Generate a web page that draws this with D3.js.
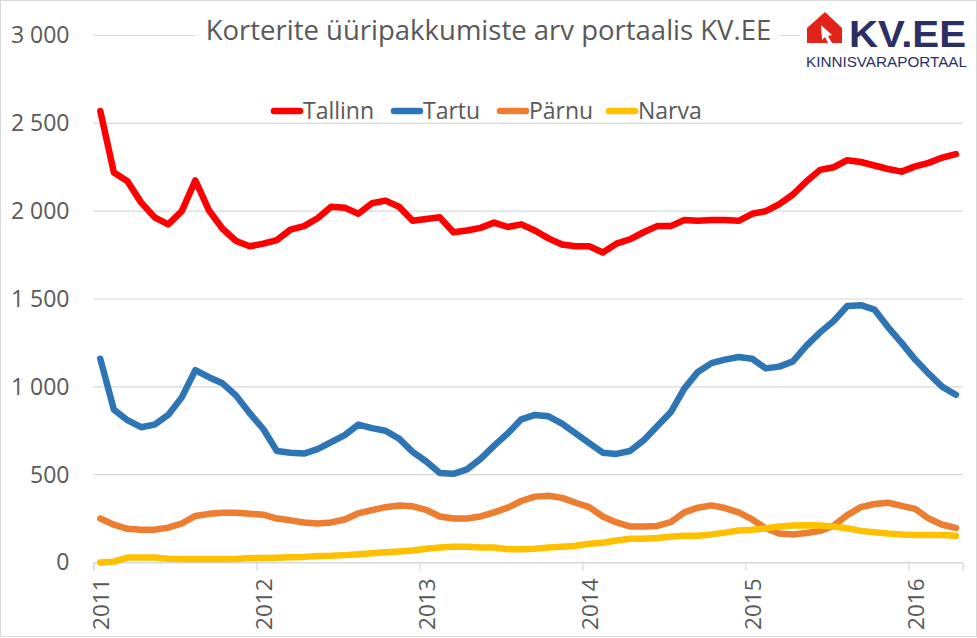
<!DOCTYPE html>
<html>
<head>
<meta charset="utf-8">
<script src="https://cdn.jsdelivr.net/npm/d3@7"></script>
<style>
  html, body { margin: 0; padding: 0; background: #fff; }
  text { font-family: "Open Sans", sans-serif; fill: #595959; }
</style>
</head>
<body>
<div id="chart"></div>
<script>
const years = ["2011", "2012", "2013", "2014", "2015", "2016"];
const yTicks = [0, 500, 1000, 1500, 2000, 2500, 3000];

const tallinn = [2570, 2220, 2170, 2050, 1965, 1925, 2000, 2175, 2005, 1900, 1830, 1800,
  1815, 1835, 1895, 1915, 1960, 2025, 2020, 1985, 2045, 2060, 2025, 1945,
  1955, 1965, 1880, 1890, 1905, 1935, 1910, 1925, 1890, 1845, 1810, 1800,
  1800, 1765, 1815, 1840, 1880, 1915, 1915, 1950, 1945, 1950, 1950, 1945,
  1985, 2000, 2040, 2095, 2170, 2235, 2250, 2290, 2280, 2260, 2240, 2225,
  2255, 2275, 2305, 2325];
const tartu = [1160, 870, 810, 770, 785, 840, 940, 1095, 1055, 1020, 950, 850,
  760, 635, 625, 620, 645, 685, 725, 785, 765, 750, 705, 630,
  575, 510, 505, 530, 590, 665, 735, 815, 840, 832, 790, 735,
  680, 625, 618, 635, 695, 775, 855, 990, 1085, 1135, 1155, 1170,
  1160, 1105, 1115, 1145, 1235, 1310, 1375, 1460, 1465, 1440, 1340, 1250,
  1155, 1075, 1000, 955];
const parnu = [250, 215, 192, 187, 187, 198, 222, 265, 277, 283, 283, 278,
  272, 250, 240, 228, 222, 228, 245, 280, 298, 315, 325, 320,
  300, 262, 250, 250, 262, 285, 312, 350, 375, 380, 368, 340,
  315, 262, 228, 205, 205, 208, 230, 285, 312, 325, 310, 285,
  245, 195, 165, 160, 168, 180, 210, 270, 315, 333, 340, 322,
  305, 250, 215, 197];
const narva = [0, 5, 28, 28, 28, 22, 20, 20, 20, 20, 20, 25,
  25, 27, 30, 32, 37, 38, 42, 47, 52, 58, 63, 68,
  78, 85, 90, 90, 85, 85, 75, 75, 78, 85, 90, 95,
  107, 112, 125, 135, 135, 140, 147, 152, 152, 160, 170, 182,
  187, 195, 205, 210, 212, 210, 205, 195, 180, 172, 165, 160,
  157, 157, 157, 152];

const seriesNames = ["Tallinn", "Tartu", "Pärnu", "Narva"];
const seriesValues = [tallinn, tartu, parnu, narva];
const seriesColors = ["#ff0000", "#2e75b6", "#ed7d31", "#ffc000"];

const width = 977, height = 638;
const svg = d3.select("#chart").append("svg")
    .attr("width", width)
    .attr("height", height)
    .style("display", "block");

// outer frame
svg.append("rect")
    .attr("x", 0.5).attr("y", 0.5)
    .attr("width", width - 1).attr("height", height - 2)
    .attr("fill", "#fff").attr("stroke", "#d9d9d9");

// months, each one has its own slot, point sits in the middle of it
const x = d3.scaleLinear().domain([0, 64]).range([93.5, 962.7]);
const y = d3.scaleLinear().domain([0, 3000]).range([562.5, 35.5]);

// gridlines
svg.append("g").selectAll("line")
    .data(yTicks)
    .join("line")
    .attr("x1", x(0)).attr("x2", x(64))
    .attr("y1", d => y(d)).attr("y2", d => y(d))
    .attr("stroke", "#d9d9d9").attr("stroke-width", 1.2);

// Y axis labels
const yAxis = svg.append("g")
    .attr("transform", "translate(" + x(0) + ",0)")
    .call(d3.axisLeft(y).tickValues(yTicks).tickSize(0).tickPadding(24)
        .tickFormat(d => d3.format(",")(d).replace(",", " ")));
yAxis.select(".domain").remove();
yAxis.selectAll("text").style("font-size", "23px").attr("fill", "#595959");

// X axis
const xAxis = svg.append("g")
    .attr("transform", "translate(0," + y(0) + ")")
    .call(d3.axisBottom(x).tickValues(years.map((d, i) => i * 12)).tickSize(8)
        .tickFormat((d, i) => years[i]));
xAxis.select(".domain").attr("stroke", "#d9d9d9").attr("stroke-width", 1.2);
xAxis.selectAll("line").attr("stroke", "#d9d9d9").attr("stroke-width", 1.2);
xAxis.selectAll("text")
    .style("font-size", "22.5px")
    .attr("fill", "#595959")
    .attr("text-anchor", "end")
    .attr("transform", "rotate(-90)")
    .attr("x", -16).attr("y", 7).attr("dy", "0.35em");

// the lines
const line = d3.line().x((d, i) => x(i + 0.5)).y(d => y(d));
svg.append("g").selectAll("path")
    .data(seriesValues)
    .join("path")
    .attr("d", line)
    .attr("fill", "none")
    .attr("stroke", (d, i) => seriesColors[i])
    .attr("stroke-width", 6.5)
    .attr("stroke-linecap", "round")
    .attr("stroke-linejoin", "round");

// title, white box cuts the gridline
svg.append("rect").attr("x", 195).attr("y", 12).attr("width", 585).attr("height", 40).attr("fill", "#fff");
svg.append("text")
    .attr("x", 488.5).attr("y", 40)
    .attr("text-anchor", "middle")
    .style("font-size", "27.5px")
    .text("Korterite üüripakkumiste arv portaalis KV.EE");

// legend
const legendX = [272, 392, 498, 607];
const legend = svg.append("g").selectAll("g")
    .data(seriesNames)
    .join("g")
    .attr("transform", (d, i) => "translate(" + legendX[i] + ",111)");
legend.append("line")
    .attr("x1", 2).attr("x2", 28)
    .attr("stroke", (d, i) => seriesColors[i])
    .attr("stroke-width", 6.5)
    .attr("stroke-linecap", "round");
legend.append("text")
    .attr("x", 31).attr("dy", "0.35em")
    .style("font-size", "23px")
    .text(d => d);

// logo
const logo = svg.append("g");
logo.append("rect").attr("x", 800).attr("y", 8).attr("width", 172).attr("height", 62).attr("fill", "#fff");
logo.append("path")
    .attr("d", "M807 28 L825 12 L842 28 L842 43 L807 43 Z")
    .attr("fill", "#e2231a");
logo.append("path")
    .attr("d", "M821 25 L832 35 L828 36 L832 43 L828 43 L825 37 L822 40 Z")
    .attr("fill", "#fff");
logo.append("text")
    .attr("x", 849).attr("y", 46.5)
    .attr("textLength", 117).attr("lengthAdjust", "spacingAndGlyphs")
    .style("font-family", "'Liberation Sans', sans-serif")
    .style("font-weight", 700).style("font-size", "37px").style("fill", "#2b2f66")
    .text("KV.EE");
logo.append("text")
    .attr("x", 806).attr("y", 66.5)
    .attr("textLength", 161).attr("lengthAdjust", "spacingAndGlyphs")
    .style("font-family", "'Liberation Sans', sans-serif")
    .style("font-size", "14px").style("fill", "#2b2f66")
    .text("KINNISVARAPORTAAL");
</script>
</body>
</html>
